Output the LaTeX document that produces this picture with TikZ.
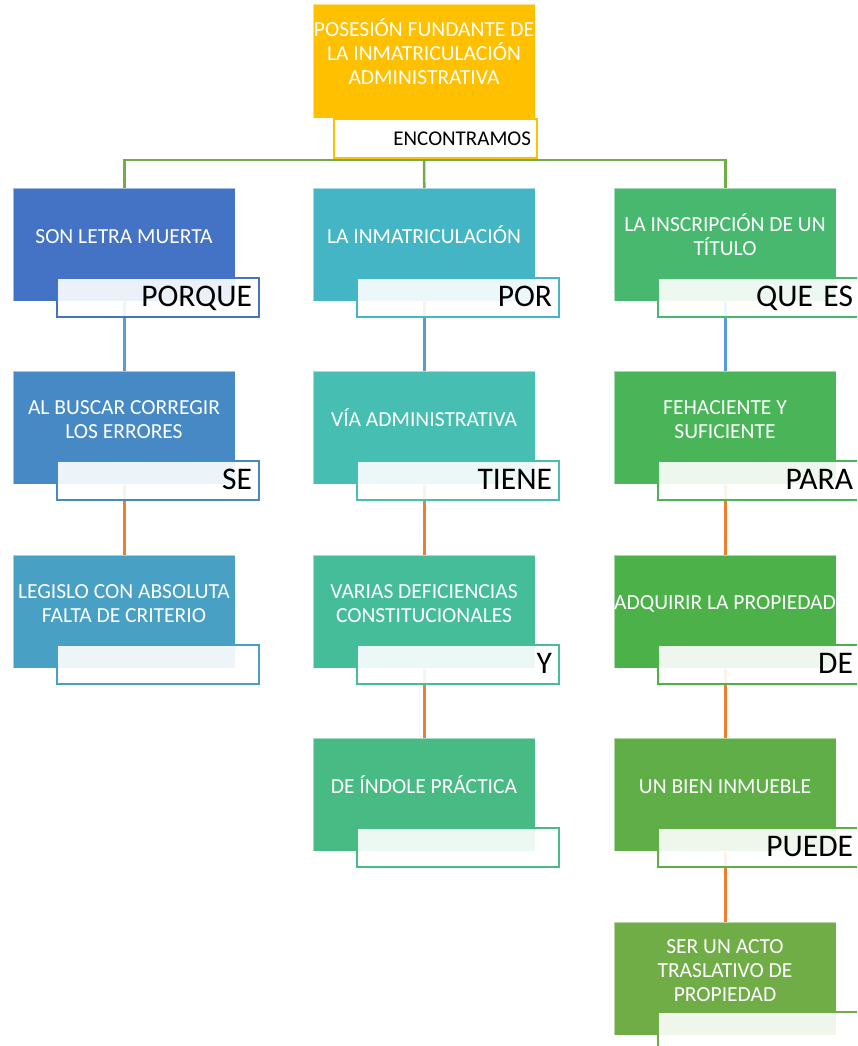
\documentclass[tikz,border=0pt]{standalone}
\usepackage{fontspec}
\setmainfont{Carlito}
\usetikzlibrary{backgrounds}
\definecolor{cTop}{RGB}{255,192,0}
\definecolor{cAa}{RGB}{68,114,196}
\definecolor{cAb}{RGB}{70,137,196}
\definecolor{cAc}{RGB}{72,160,196}
\definecolor{cBa}{RGB}{68,181,196}
\definecolor{cBb}{RGB}{70,190,178}
\definecolor{cBc}{RGB}{70,189,153}
\definecolor{cBd}{RGB}{71,187,131}
\definecolor{cCa}{RGB}{71,184,110}
\definecolor{cCb}{RGB}{73,181,88}
\definecolor{cCc}{RGB}{76,177,72}
\definecolor{cCd}{RGB}{96,174,72}
\definecolor{cCe}{RGB}{112,173,71}
\definecolor{lnBlue}{RGB}{91,155,213}
\definecolor{lnOrange}{RGB}{237,125,49}
\definecolor{lnGreen}{RGB}{112,173,71}
\tikzset{
 mainbox/.style={rectangle, anchor=north west, minimum width=222pt, minimum height=113pt, inner sep=0pt, fill=#1, draw=white, draw opacity=0.5, line width=0.6pt},
 maintext/.style={align=center, text=white, font=\fontsize{21.5}{24}\selectfont, inner sep=0pt},
 tagbox/.style={rectangle, anchor=north west, minimum width=202pt, minimum height=39pt, inner xsep=7pt, inner ysep=0pt, text width=188pt, align=right, fill=white, fill opacity=0.9, text opacity=1, draw=#1, draw opacity=1, line width=2pt, font=\fontsize{31.5}{36}\selectfont, text height=23pt, text depth=6pt},
 toptag/.style={rectangle, anchor=north west, minimum width=203pt, minimum height=39pt, inner xsep=6pt, inner ysep=0pt, text width=191pt, align=right, fill=white, draw=cTop, line width=2pt, font=\fontsize{21}{24}\selectfont, text height=18pt, text depth=3pt},
 link/.style={line width=2.5pt, draw=#1},
}
\newcommand\mkunit[6]{%
 \node[mainbox=#4] (#1) at (#2,#3) {};
 \node[maintext] (#1t) at ([xshift=111pt,yshift=-47pt]#1.north west) {\vphantom{Í}#5};
 \node[tagbox=#4] (#1l) at ([xshift=43pt,yshift=-89pt]#1.north west) {#6};
}
\begin{document}
\begin{tikzpicture}[x=1pt,y=-1pt]
\useasboundingbox (0,0) rectangle (857,1046);
\clip (0,0) rectangle (857,1046);
% top
\node[mainbox=cTop, minimum height=114pt] (top) at (313,4) {};
\node[maintext] (topt) at ([xshift=111pt,yshift=-48pt]top.north west) {POSESIÓN FUNDANTE DE\\LA INMATRICULACIÓN\\ADMINISTRATIVA};
\node[toptag] (topl) at (333,118) {ENCONTRAMOS};
% column A
\mkunit{aa}{13}{188}{cAa}{SON LETRA MUERTA}{PORQUE}
\mkunit{ab}{13}{371}{cAb}{AL BUSCAR CORREGIR\\LOS ERRORES}{SE}
\mkunit{ac}{13}{555}{cAc}{LEGISLO CON ABSOLUTA\\FALTA DE CRITERIO}{}
% column B
\mkunit{ba}{313}{188}{cBa}{LA INMATRICULACIÓN}{POR}
\mkunit{bb}{313}{371}{cBb}{VÍA ADMINISTRATIVA}{TIENE}
\mkunit{bc}{313}{555}{cBc}{VARIAS DEFICIENCIAS\\CONSTITUCIONALES}{Y}
\mkunit{bd}{313}{738}{cBd}{DE ÍNDOLE PRÁCTICA}{}
% column C
\mkunit{ca}{614}{188}{cCa}{LA INSCRIPCIÓN DE UN\\TÍTULO}{QUE~ES}
\mkunit{cb}{614}{371}{cCb}{FEHACIENTE Y\\SUFICIENTE}{PARA}
\mkunit{cc}{614}{555}{cCc}{ADQUIRIR LA PROPIEDAD}{DE}
\mkunit{cd}{614}{738}{cCd}{UN BIEN INMUEBLE}{PUEDE}
\mkunit{ce}{614}{922}{cCe}{SER UN ACTO\\TRASLATIVO DE\\PROPIEDAD}{}
\begin{pgfonlayer}{background}
\coordinate (bus) at (424,160);
\draw[link=lnGreen] (top.south) -- (bus);
\draw[link=lnGreen] (aa.north) |- (ca.north |- bus) -- (ca.north);
\draw[link=lnGreen] (bus) -- (ba.north);
\draw[link=lnBlue] (aa.south) -- (ab.north);
\draw[link=lnOrange] (ab.south) -- (ac.north);
\draw[link=lnBlue] (ba.south) -- (bb.north);
\draw[link=lnOrange] (bb.south) -- (bc.north);
\draw[link=lnOrange] (bc.south) -- (bd.north);
\draw[link=lnBlue] (ca.south) -- (cb.north);
\draw[link=lnOrange] (cb.south) -- (cc.north);
\draw[link=lnOrange] (cc.south) -- (cd.north);
\draw[link=lnOrange] (cd.south) -- (ce.north);
\end{pgfonlayer}
\end{tikzpicture}
\end{document}
